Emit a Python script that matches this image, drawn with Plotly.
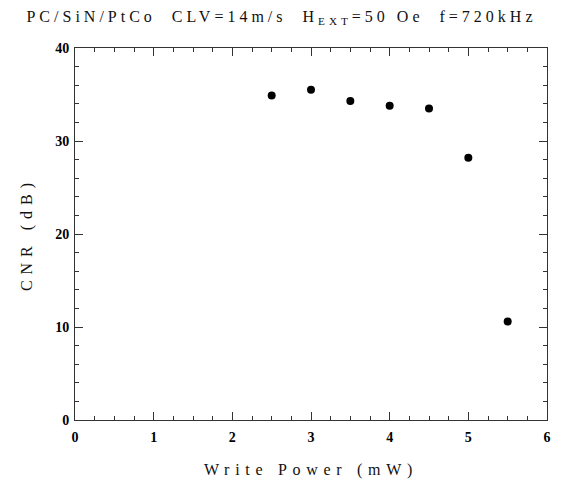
import plotly.graph_objects as go

# Measured CNR versus write power
write_power = [2.5, 3.0, 3.5, 4.0, 4.5, 5.0, 5.5]
cnr_db = [34.9, 35.5, 34.3, 33.8, 33.5, 28.2, 10.6]

x_ticks = [0, 1, 2, 3, 4, 5, 6]
y_ticks = [0, 10, 20, 30, 40]

title_text = "PC/SiN/PtCo  CLV=14m/s  H<sub>EXT</sub>=50 Oe  f=720kHz"
x_title = "Write Power (mW)"
y_title = "CNR (dB)"

font_family = "Liberation Serif, DejaVu Serif, serif"
ink = "#111111"
frame = "#333333"

fig = go.Figure()
fig.add_trace(go.Scatter(
    x=write_power, y=cnr_db, mode="markers",
    marker=dict(size=8, color="black", line=dict(width=0)),
    showlegend=False,
))

axis_common = dict(
    showgrid=False, zeroline=False, showline=True, linecolor=frame, linewidth=1,
    mirror="allticks", ticks="inside", tickcolor=frame, tickwidth=1, ticklen=8,
    tickfont=dict(family=font_family, size=14, color="black", weight="bold"),
)

fig.update_xaxes(
    range=[0, 6], tickvals=x_ticks, ticklabelstandoff=4,
    minor=dict(ticks="inside", dtick=0.25, ticklen=4, tickcolor=frame),
    title=dict(text=x_title, font=dict(family=font_family, size=16, color=ink), standoff=20),
    **axis_common,
)
fig.update_yaxes(
    range=[0, 40], tickvals=y_ticks, ticklabelstandoff=2,
    minor=dict(ticks="inside", dtick=2, ticklen=4, tickcolor=frame),
    title=dict(text=y_title, font=dict(family=font_family, size=16, color=ink), standoff=18),
    **axis_common,
)

fig.update_layout(
    width=563, height=488,
    margin=dict(l=75, r=16, t=48, b=68),
    paper_bgcolor="white", plot_bgcolor="white",
    title=dict(text=title_text, x=0.5, xanchor="center", y=0.978, yanchor="top",
               font=dict(family=font_family, size=16, color=ink)),
)

# Widen the letter spacing of titles, as on a typewritten figure
post = """
function spread(){
  document.querySelectorAll('.gtitle').forEach(function(t){t.style.letterSpacing='4px';});
  document.querySelectorAll('.xtitle').forEach(function(t){t.style.letterSpacing='5.7px';});
  document.querySelectorAll('.ytitle').forEach(function(t){t.style.letterSpacing='6px';});
}
spread();
var gd = document.getElementsByClassName('plotly-graph-div')[0];
if (gd && gd.on) { gd.on('plotly_afterplot', spread); }
"""

fig.write_html("out.html", post_script=post)
